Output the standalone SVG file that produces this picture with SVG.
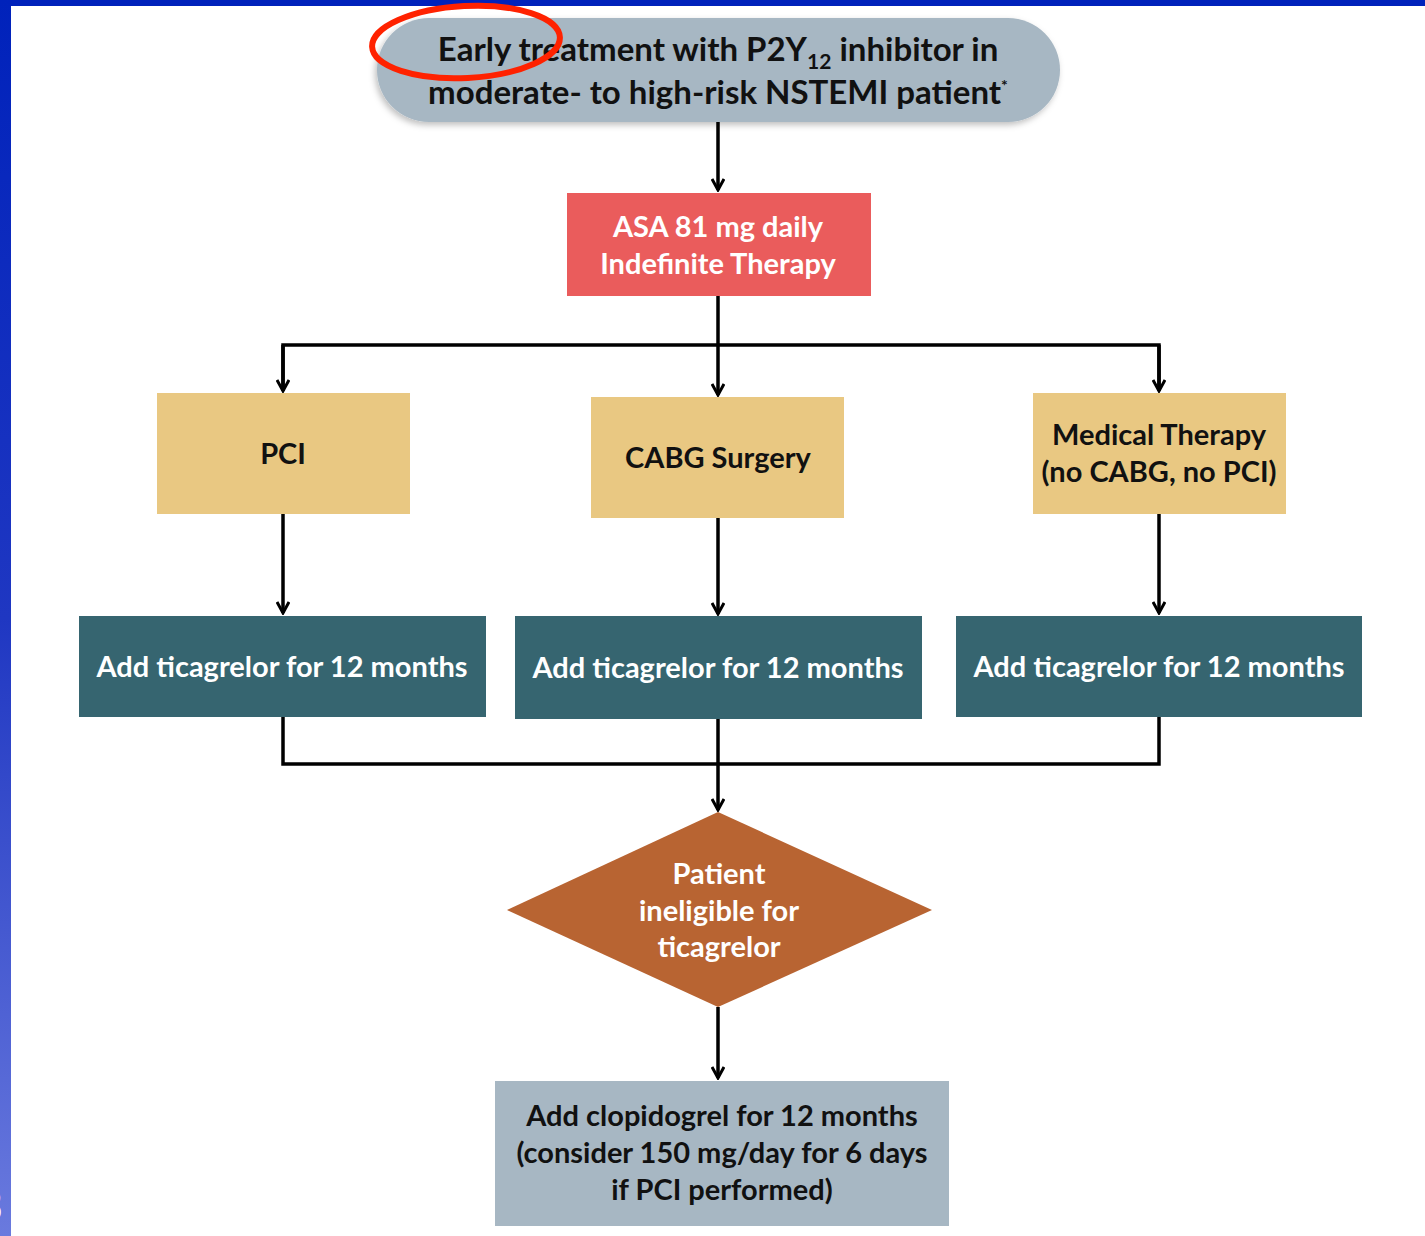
<svg xmlns="http://www.w3.org/2000/svg" width="1425" height="1236" viewBox="0 0 1425 1236">
<defs>
<linearGradient id="leftbar" x1="0" y1="0" x2="0" y2="1">
<stop offset="0" stop-color="#0022bb"/>
<stop offset="0.5" stop-color="#1f37c2"/>
<stop offset="1" stop-color="#6a7ade"/>
</linearGradient>
<filter id="shadow" x="-10%" y="-20%" width="120%" height="150%">
<feDropShadow dx="-2" dy="3" stdDeviation="3" flood-color="#000" flood-opacity="0.25"/>
</filter>
<marker id="arr" viewBox="0 0 14 14" refX="12" refY="7" markerWidth="14" markerHeight="14" markerUnits="userSpaceOnUse" orient="auto">
<path d="M1,1 L12,7 L1,13" fill="none" stroke="#000" stroke-width="3" stroke-linejoin="miter"/>
</marker>
<style>
.t{font-family:Lato,"Open Sans","Liberation Sans",sans-serif;font-weight:bold;text-anchor:middle;font-size:29px}
.big{font-size:33px}
.dk{fill:#111}
.wt{fill:#fff}
.conn{fill:none;stroke:#000;stroke-width:3.5}
.gold{fill:#e9c882}
.teal{fill:#366570}
.grey{fill:#a7b7c3}
</style>
</defs>
<rect width="1425" height="1236" fill="#fff"/>
<rect x="0" y="0" width="1425" height="6" fill="#0022bb"/>
<rect x="0" y="0" width="11" height="1236" fill="url(#leftbar)"/>
<text x="-10" y="1222" class="t wt" style="font-size:44px">3</text>

<g id="connectors">
<path class="conn" d="M718,122 V190" marker-end="url(#arr)"/>
<path class="conn" d="M718,296 V395" marker-end="url(#arr)"/>
<path class="conn" d="M283,390 V345 H1159 V390" />
<path class="conn" d="M283,345 V391" marker-end="url(#arr)"/>
<path class="conn" d="M1159,345 V391" marker-end="url(#arr)"/>
<path class="conn" d="M283,514 V613" marker-end="url(#arr)"/>
<path class="conn" d="M718,518 V614" marker-end="url(#arr)"/>
<path class="conn" d="M1159,514 V613" marker-end="url(#arr)"/>
<path class="conn" d="M283,717 V764 H1159 V717"/>
<path class="conn" d="M718,719 V810" marker-end="url(#arr)"/>
<path class="conn" d="M718,1007 V1078" marker-end="url(#arr)"/>
</g>

<g id="start">
<rect x="377" y="18" width="683" height="104" rx="52" ry="52" class="grey" filter="url(#shadow)"/>
<text x="718" y="61" class="t big dk">Early treatment with P2Y<tspan style="font-size:21px" dy="8">12</tspan><tspan dy="-8"> inhibitor in</tspan></text>
<text x="718" y="104" class="t big dk">moderate- to high-risk NSTEMI patient<tspan style="font-size:16px" dy="-13">*</tspan></text>
</g>

<g id="asa">
<rect x="567" y="193" width="304" height="103" fill="#ea5c5c"/>
<text x="718" y="237" class="t wt">ASA 81 mg daily</text>
<text x="718" y="274" class="t wt">Indefinite Therapy</text>
</g>

<g id="pci">
<rect x="157" y="393" width="253" height="121" class="gold"/>
<text x="283" y="464" class="t dk">PCI</text>
</g>

<g id="cabg">
<rect x="591" y="397" width="253" height="121" class="gold"/>
<text x="718" y="468" class="t dk">CABG Surgery</text>
</g>

<g id="medical">
<rect x="1033" y="393" width="253" height="121" class="gold"/>
<text x="1159" y="445" class="t dk">Medical Therapy</text>
<text x="1159" y="482" class="t dk">(no CABG, no PCI)</text>
</g>

<g id="tica-left">
<rect x="79" y="616" width="407" height="101" class="teal"/>
<text x="282" y="677" class="t wt">Add ticagrelor for 12 months</text>
</g>

<g id="tica-mid">
<rect x="515" y="616" width="407" height="103" class="teal"/>
<text x="718" y="678" class="t wt">Add ticagrelor for 12 months</text>
</g>

<g id="tica-right">
<rect x="956" y="616" width="406" height="101" class="teal"/>
<text x="1159" y="677" class="t wt">Add ticagrelor for 12 months</text>
</g>

<g id="decision">
<polygon points="718,812 932,910 718,1007 507,910" fill="#b86432"/>
<text x="719" y="884" class="t wt">Patient</text>
<text x="719" y="921" class="t wt">ineligible for</text>
<text x="719" y="957" class="t wt">ticagrelor</text>
</g>

<g id="clopidogrel">
<rect x="495" y="1081" width="454" height="145" class="grey"/>
<text x="722" y="1126" class="t dk">Add clopidogrel for 12 months</text>
<text x="722" y="1163" class="t dk">(consider 150 mg/day for 6 days</text>
<text x="722" y="1200" class="t dk">if PCI performed)</text>
</g>

<ellipse id="highlight" cx="466" cy="42" rx="94" ry="36" fill="none" stroke="#ff2200" stroke-width="6" transform="rotate(-3 466 42)"/>
</svg>
